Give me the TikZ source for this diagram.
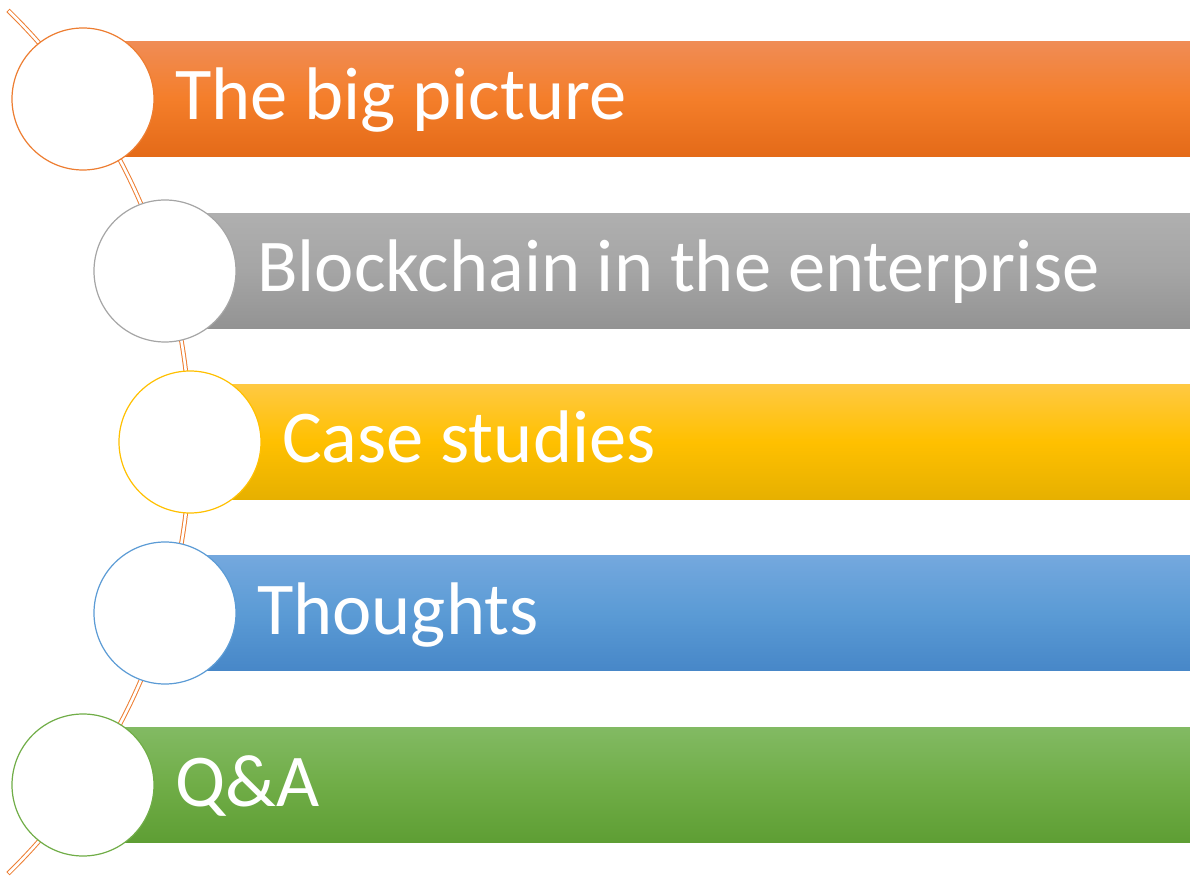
\documentclass[tikz,border=0pt]{standalone}
\usepackage{fontspec}
\setmainfont{Carlito}

\definecolor{toporange}{HTML}{F08C55}
\definecolor{midorange}{HTML}{F47E2A}
\definecolor{botorange}{HTML}{E46A18}
\definecolor{lineorange}{HTML}{ED7D31}
\definecolor{topgray}{HTML}{AFAFAF}
\definecolor{midgray}{HTML}{A5A5A5}
\definecolor{botgray}{HTML}{939393}
\definecolor{linegray}{HTML}{A5A5A5}
\definecolor{topyellow}{HTML}{FFC942}
\definecolor{midyellow}{HTML}{FFC000}
\definecolor{botyellow}{HTML}{E6B000}
\definecolor{lineyellow}{HTML}{FFC000}
\definecolor{topblue}{HTML}{74A8DE}
\definecolor{midblue}{HTML}{5B9BD5}
\definecolor{botblue}{HTML}{4787C8}
\definecolor{lineblue}{HTML}{5B9BD5}
\definecolor{topgreen}{HTML}{82BA63}
\definecolor{midgreen}{HTML}{70AD47}
\definecolor{botgreen}{HTML}{5E9E34}
\definecolor{linegreen}{HTML}{70AD47}

\begin{document}
\begin{tikzpicture}[x=1pt,y=1pt,
  spine/.style={draw=lineorange, line width=1pt, double=white, double distance=2.6pt, line cap=rect},
  bullet/.style={circle, fill=white, line width=1.2pt, minimum size=142pt, inner sep=0pt},
  itemtext/.style={text=white, inner sep=0pt, anchor=base west, font=\fontsize{74.5}{90}\selectfont}]
  \useasboundingbox (0,0) rectangle (1190,876);

  % curved spine behind the circles
  \coordinate (hub) at (-413,434);
  \draw[spine] ([shift={(45.5:603)}]hub) arc (45.5:-45.5:603);

  \foreach \cx/\cy/\tone/\name/\txt in {83/777/orange/big/The big picture,
      165/605/gray/chain/Blockchain in the enterprise,
      190/434/yellow/case/Case studies,
      165/263/blue/thought/Thoughts,
      83/91/green/qa/Q\&A}
  {
    \shade[top color=top\tone, bottom color=bot\tone, middle color=mid\tone]
      (\cx,\cy-57.5) rectangle (1190,\cy+57.5);
    \node[bullet, draw=line\tone] (\name) at (\cx,\cy) {};
    \node[itemtext] (\name text) at (\cx+92,\cy-21) {\txt};
  }

\end{tikzpicture}
\end{document}
